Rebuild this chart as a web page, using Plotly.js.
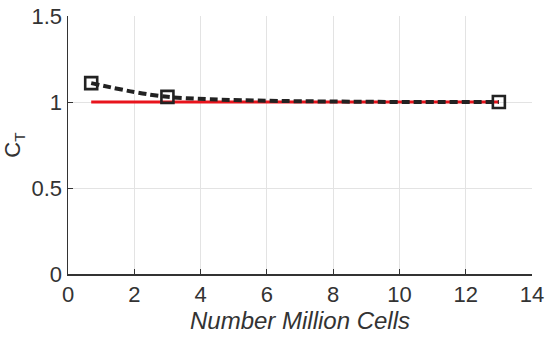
<!DOCTYPE html>
<html><head><meta charset="utf-8">
<script src="https://cdn.plot.ly/plotly-3.0.1.min.js"></script>
<style>html,body{margin:0;padding:0;background:#fff}#c{width:550px;height:339px}</style>
</head><body><div id="c"></div>
<script>
const cells = [0.7, 3.0, 13.0];
const ctMesh = [1.11, 1.03, 1.0];
const refX = [0.7, 13.0];
const refCt = [1.0, 1.0];
const xTicks = [0, 2, 4, 6, 8, 10, 12, 14];
const yTicks = [0, 0.5, 1, 1.5];
const yTickText = ['0', '0.5', '1', '1.5'];

const traces = [
  {x: refX, y: refCt, mode: 'lines', line: {color: '#e8141c', width: 3.2}, hoverinfo: 'skip'},
  {x: cells, y: ctMesh, mode: 'lines+markers',
   line: {color: '#222', width: 4, dash: '8px,4px', shape: 'spline', smoothing: 0.8},
   marker: {symbol: 'square-open', size: 12, color: '#222', line: {width: 2.6, color: '#222'}}}
];
const font = {family: 'Liberation Sans, Arial, sans-serif', color: '#333'};
const layout = {
  width: 550, height: 339, showlegend: false,
  margin: {l: 68, r: 18, t: 16, b: 65},
  paper_bgcolor: '#fff', plot_bgcolor: '#fff',
  font: font,
  xaxis: {range: [0, 14], tickvals: xTicks, ticks: 'inside', ticklen: 5, tickcolor: '#333',
    showline: true, linecolor: '#333', linewidth: 1.5, mirror: false,
    gridcolor: '#e3e3e3', gridwidth: 1, zeroline: false,
    tickfont: {size: 22, color: '#333', family: font.family},
    title: {text: '<i>Number Million Cells</i>', font: {size: 24, color: '#333', family: font.family}, standoff: 4}},
  yaxis: {range: [0, 1.5], tickvals: yTicks, ticktext: yTickText, ticks: 'inside', ticklen: 5, tickcolor: '#333',
    showline: true, linecolor: '#333', linewidth: 1.5,
    gridcolor: '#e3e3e3', gridwidth: 1, zeroline: false,
    tickfont: {size: 22, color: '#333', family: font.family},
    title: {text: 'C<sub>T</sub>', font: {size: 22, color: '#333', family: font.family}, standoff: 6}}
};
Plotly.newPlot('c', traces, layout, {displayModeBar: false, staticPlot: true});
</script></body></html>
